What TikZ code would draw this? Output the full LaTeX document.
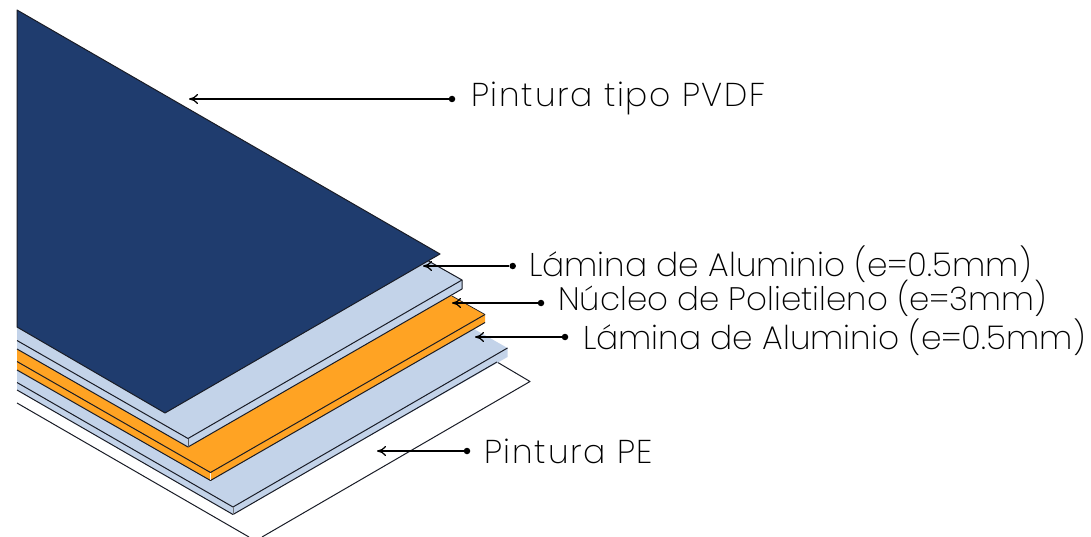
\documentclass[tikz,border=0pt]{standalone}
\usepackage{fontspec}
\usetikzlibrary{arrows.meta}
\newfontfamily\widelabel[UprightFont={* ExtraLight},LetterSpace=5.3]{Poppins}
\newfontfamily\tightlabel[UprightFont={* ExtraLight}]{Poppins}
\definecolor{navy}{RGB}{31,60,110}
\definecolor{alum}{RGB}{195,211,233}
\definecolor{core}{RGB}{255,163,35}
\definecolor{edge}{RGB}{25,28,38}
\tikzset{
  outline/.style={draw=edge,line width=1pt,line join=round},
  dotnode/.style={circle,fill=black,inner sep=0pt,minimum size=6.5pt},
  leader/.style={draw=black,line width=1.25pt,-{Computer Modern Rightarrow[length=9pt,width=10pt]}},
  lblwide/.style={anchor=base west,inner sep=0pt,font=\widelabel\fontsize{33}{36}\selectfont,text=black},
  lbltight/.style={anchor=base west,inner sep=0pt,font=\tightlabel\fontsize{32.85}{36}\selectfont,text=black},
  lblcore/.style={anchor=base west,inner sep=0pt,font=\tightlabel\fontsize{32.5}{36}\selectfont,text=black}
}
\begin{document}
\begin{tikzpicture}[x=1pt,y=-1pt]
\useasboundingbox (0,0) rectangle (1091,537);
\begin{scope}
\clip (0,0) rectangle (1091,537);
% white base sheet
\draw[outline] (17,403) -- (249,537);
\draw[outline] (497,362) -- (530,381.5) -- (262,537);
% lower aluminium
\fill[alum] (17,370) -- (474,329) -- (507.5,348) -- (507.5,357) -- (233,514.5) -- (17,390) -- cycle;
\fill[alum] (17,370) -- (211,480) -- (474,329) -- cycle;
\draw[outline] (17,382.5) -- (233,507) -- (507.5,348);
\draw[outline] (17,390) -- (233,514.5) -- (497,362);
\draw[edge!60,line width=0.5pt] (233,507) -- (233,514.5);
% core
\fill[core] (17,349) -- (452,296) -- (485,314.5) -- (485,322.5) -- (211,480.5) -- (17,370) -- cycle;
\fill[core] (17,349) -- (188,447) -- (452,296) -- cycle;
\draw[outline] (17,361.5) -- (210.5,472.5) -- (485,314.5);
\draw[outline] (17,370) -- (210.5,480.5) -- (485,322.5);
\draw[edge,line width=0.7pt] (452,296) -- (485,314.5);
\draw[white!85!core,line width=0.5pt] (210.5,473) -- (210.5,480);
% upper aluminium
\fill[alum] (17,327) -- (428.5,261) -- (462,280) -- (462,289) -- (188,447) -- (17,349) -- cycle;
\draw[outline] (17,340.5) -- (188,438.5) -- (462,280);
\draw[outline] (17,349) -- (188,447) -- (462,289);
\draw[outline] (428.5,261) -- (462,280) -- (462,289);
\draw[edge!75,line width=0.7pt] (188,438.5) -- (188,447);
% paint
\filldraw[fill=navy,outline] (17,10) -- (440,254) -- (165,413) -- (17,327) -- cycle;
\end{scope}
% labels and leaders
\node[lblwide] (pvdf) at (471,106.7) {Pintura tipo PVDF};
\node[lbltight] (alua) at (529,276.7) {Lámina de Aluminio (e=0.5mm)};
\node[lblcore] (pe) at (558,310.7) {Núcleo de Polietileno (e=3mm)};
\node[lbltight] (alub) at (583,349) {Lámina de Aluminio (e=0.5mm)};
\node[lblwide] (pebot) at (484,463) {Pintura PE};
\node[dotnode] (d1) at (452,99) {};
\node[dotnode] (d2) at (512.7,266) {};
\node[dotnode] (d3) at (541,303) {};
\node[dotnode] (d4) at (565,337) {};
\node[dotnode] (d5) at (467,451) {};
\coordinate (t1) at (189,99);
\coordinate (t2) at (423,266);
\coordinate (t3) at (452,303);
\coordinate (t4) at (475,337);
\coordinate (t5) at (377,451);
\draw[leader] (d1) -- (t1);
\draw[leader] (d2) -- (t2);
\draw[leader] (d3) -- (t3);
\draw[leader] (d4) -- (t4);
\draw[leader] (d5) -- (t5);
\end{tikzpicture}
\end{document}
